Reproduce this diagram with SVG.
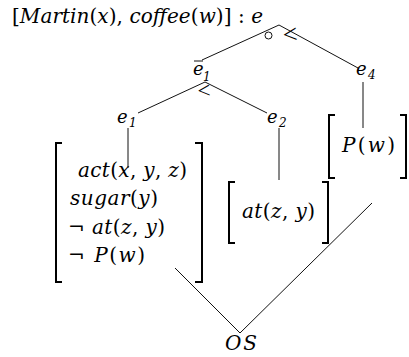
<svg xmlns="http://www.w3.org/2000/svg" width="409" height="357" viewBox="0 0 409 357">
<style>
text{font-family:"DejaVu Serif","Liberation Serif",serif;fill:#000;font-style:italic}
.t{font-size:20px}
.l{font-size:18px}
.s{font-size:12px}
.n{font-style:normal}
.rel{font-family:"Liberation Serif",serif;font-style:normal}
.ln{fill:none;stroke:#111;stroke-width:1}
.br{fill:none;stroke:#000;stroke-width:2}
</style>
<rect width="409" height="357" fill="#fff"/>
<g id="connectors">
<path class="ln" d="M202,60 L279,25 L358,68"/>
<path class="ln" d="M138,113 L205,82 L267,113"/>
<path class="ln" d="M128,128 V168"/>
<path class="ln" d="M279,128 V180"/>
<path class="ln" d="M363,82 V128"/>
<path class="ln" d="M175,268 L240,333 L372,203"/>
<circle class="ln" cx="268.5" cy="35.5" r="3.5"/>
<text class="rel" font-size="26" text-anchor="middle" transform="translate(290,35) rotate(-5)" y="8">&lt;</text>
<text class="rel" font-size="23" text-anchor="middle" transform="translate(204,91) rotate(-4)" y="7">&lt;</text>
</g>
<g id="title">
<text class="t" x="12" y="23" textLength="251"><tspan class="n">[</tspan>Martin<tspan class="n">(</tspan>x<tspan class="n">), </tspan>coffee<tspan class="n">(</tspan>w<tspan class="n">)] : </tspan>e</text>
</g>
<g id="e_bar1">
<text class="l" x="193" y="75">e</text>
<path class="ln" d="M194,61 H203"/>
<text class="s" x="203" y="81">1</text>
</g>
<g id="e4">
<text class="l" x="356" y="75">e</text>
<text class="s" x="368" y="79">4</text>
</g>
<g id="e1">
<text class="l" x="117" y="123">e</text>
<text class="s" x="129" y="127">1</text>
</g>
<g id="e2">
<text class="l" x="267" y="123">e</text>
<text class="s" x="279" y="127">2</text>
</g>
<g id="box1">
<path class="br" d="M62,143 H56 V282 H62"/>
<path class="br" d="M195,143 H202 V282 H195"/>
<text class="t" x="78" y="177" textLength="109">act<tspan class="n">(</tspan>x<tspan class="n">, </tspan>y<tspan class="n">, </tspan>z<tspan class="n">)</tspan></text>
<text class="t" x="70" y="205" textLength="88">sugar<tspan class="n">(</tspan>y<tspan class="n">)</tspan></text>
<text class="t" x="68" y="234" textLength="97"><tspan class="n">¬ </tspan>at<tspan class="n">(</tspan>z<tspan class="n">, </tspan>y<tspan class="n">)</tspan></text>
<text class="t" x="68" y="262" textLength="77"><tspan class="n">¬ </tspan>P<tspan class="n">(</tspan>w<tspan class="n">)</tspan></text>
</g>
<g id="box2">
<path class="br" d="M235,182 H229 V243 H235"/>
<path class="br" d="M322,182 H328 V243 H322"/>
<text class="t" x="242" y="218" textLength="73">at<tspan class="n">(</tspan>z<tspan class="n">, </tspan>y<tspan class="n">)</tspan></text>
</g>
<g id="box3">
<path class="br" d="M335,115 H329 V178 H335"/>
<path class="br" d="M400,115 H406 V178 H400"/>
<text class="t" x="342" y="152" textLength="53">P<tspan class="n">(</tspan>w<tspan class="n">)</tspan></text>
</g>
<g id="os">
<text font-size="20" x="225" y="350" textLength="32">OS</text>
</g>
</svg>
